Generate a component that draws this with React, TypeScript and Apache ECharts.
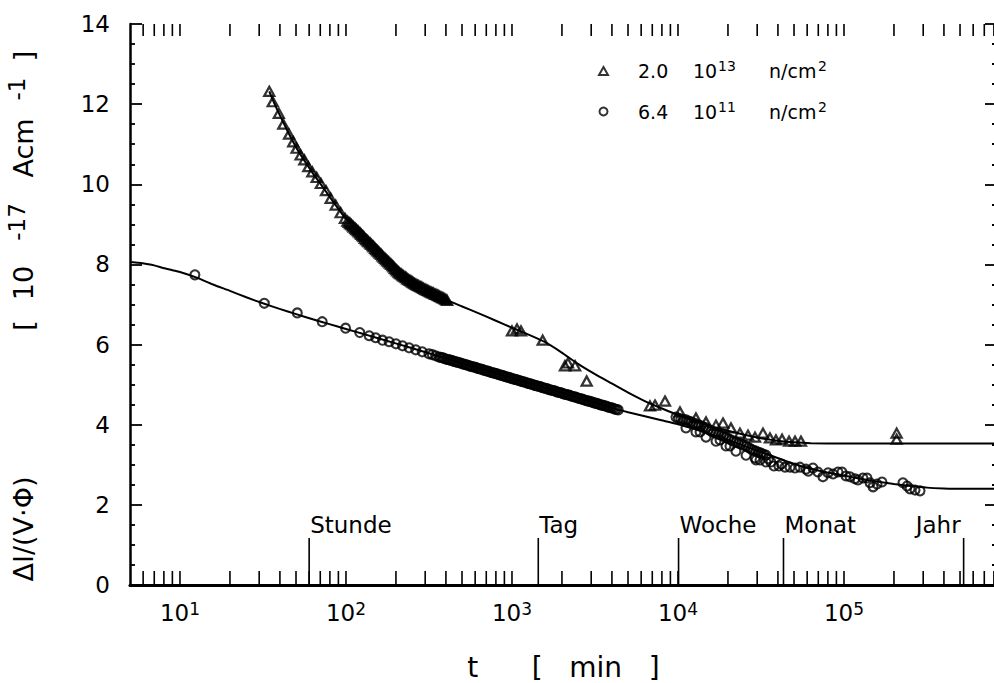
import { useEffect, useRef } from "react";
import * as echarts from "echarts";

const FONT = "'DejaVu Sans', 'Liberation Sans', sans-serif";

// axis ranges
const X_MIN = 5;
const X_MAX = 835000;
const Y_MIN = 0;
const Y_MAX = 14;
const Y_STEP = 2;

// legend / series naming
const seriesCoefficients = ["2.0", "6.4"];
const seriesExponents = ["13", "11"];
const seriesNames = seriesCoefficients.map((c, i) => `${c} 10^${seriesExponents[i]} n/cm^2`);

// 2.0e13 n/cm^2 (triangles): time [min]
const triT = [
  34.5, 36.2, 39.4, 41.9, 45.4, 48.1, 50.4, 53.3, 56.1, 59.3, 62.7, 66.6, 70.6, 75.8, 80.9, 86.7, 92.9, 98.6,
  102, 106, 110, 114, 118, 122, 126, 130, 135, 140, 145, 150, 155, 160, 166, 172, 178, 184, 191, 197, 204, 211,
  219, 227, 234, 243, 251, 260, 269, 279, 288, 299, 309, 320, 331, 343, 355, 367, 380, 394, 407,
  104.1, 107.8, 111.5, 115.5, 119.5, 123.8, 128.1, 132.6, 137.2, 142, 147, 152.2, 157.6, 163.2, 168.9, 174.8, 180.9,
  187.3, 193.9, 200.7, 207.7, 215, 222.6, 230.4, 238.5, 246.9, 255.6, 264.5, 273.8, 283.5, 293.4, 303.7, 314.4,
  325.5, 336.9, 348.7, 361, 373.6, 386.7, 400.4,
  1000, 1072, 1133, 1531, 2085, 2173, 2399, 2818,
  6780, 7270, 8350, 10280, 12830, 14750, 16940, 18670, 20850, 23620, 26410, 29100, 32510, 35810, 38910, 42360,
  46670, 50700, 55080,
  207600, 207600,
];
const triV = [
  12.32, 12.06, 11.77, 11.5, 11.25, 11.06, 10.9, 10.73, 10.61, 10.44, 10.31, 10.17, 10.02, 9.84, 9.65, 9.48, 9.29, 9.15,
  9.08, 9.02, 8.96, 8.9, 8.84, 8.78, 8.72, 8.65, 8.59, 8.53, 8.47, 8.4, 8.34, 8.28, 8.21, 8.15, 8.09, 8.03, 7.97, 7.9, 7.84, 7.78,
  7.73, 7.69, 7.64, 7.6, 7.56, 7.52, 7.48, 7.45, 7.42, 7.38, 7.35, 7.32, 7.29, 7.26, 7.23, 7.2, 7.17, 7.14, 7.1,
  9.05, 8.99, 8.93, 8.87, 8.81, 8.75, 8.69, 8.62, 8.56, 8.5, 8.44, 8.37, 8.31, 8.25, 8.18, 8.12, 8.06,
  8.0, 7.94, 7.87, 7.81, 7.76, 7.71, 7.67, 7.62, 7.58, 7.54, 7.5, 7.47, 7.44, 7.4, 7.37, 7.34,
  7.31, 7.28, 7.25, 7.22, 7.19, 7.16, 7.12,
  6.34, 6.39, 6.34, 6.11, 5.47, 5.54, 5.47, 5.09,
  4.47, 4.49, 4.59, 4.32, 4.17, 4.07, 3.99, 4.04, 3.92, 3.79, 3.74, 3.69, 3.79, 3.67, 3.62, 3.64,
  3.59, 3.59, 3.59,
  3.79, 3.64,
];

// 6.4e11 n/cm^2 (circles)
const circT = [
  12.3, 32.2, 50.9, 71.9, 99.5, 121, 138, 151, 166, 182, 200, 219, 240, 263, 288,
  316, 331, 347, 363, 380, 398, 417, 437, 457, 479, 501, 525, 550, 575, 603, 631, 661, 692, 724, 759, 794, 832, 871,
  912, 955, 1000, 1047, 1096, 1148, 1202, 1259, 1318, 1380, 1445, 1514, 1585, 1660, 1738, 1820, 1905, 1995, 2089,
  2188, 2291, 2399, 2512, 2630, 2754, 2884, 3020, 3162, 3311, 3467, 3631, 3802, 3981, 4169, 4365,
  372, 389, 407, 427, 447, 468, 490, 513, 537, 562, 589, 617, 646, 676, 708, 741, 776, 813, 851, 891, 933, 977,
  1023, 1072, 1122, 1175, 1230, 1288, 1349, 1413, 1479, 1549, 1622, 1698, 1778, 1862, 1950, 2042, 2138, 2239,
  2344, 2455, 2570, 2692, 2818, 2951, 3090, 3236, 3388, 3548, 3715, 3890, 4074, 4266,
  9727, 10420, 11170, 11970, 12830, 13770, 14750, 15810, 16940, 18160, 19460, 20850, 22340, 23990, 25700, 27540,
  29510, 31620, 33880, 36310, 37840, 40550, 44160, 47320, 50700, 54330, 59020, 65010, 69660, 74650, 80170, 85900,
  92040, 97270, 102800, 108700, 116400, 121400, 130100, 137700, 143500, 149600, 158100, 169400, 226500, 239900,
  250000, 267900, 287100,
  10070, 10790, 11570, 12390, 13290, 14250, 15270, 16360, 17540, 18800, 20140, 21580, 23150, 24830, 26600, 28510,
  30550, 32730, 35070,
  11170, 12830, 13580, 14750, 16940, 17910, 19460, 20560, 22340, 25700, 29100, 29510, 31190, 33880, 42000, 61000,
];
const circV = [
  7.74, 7.03, 6.79, 6.57, 6.41, 6.3, 6.22, 6.17, 6.11, 6.07, 6.02, 5.97, 5.92, 5.87, 5.82,
  5.77, 5.75, 5.72, 5.69, 5.67, 5.64, 5.62, 5.6, 5.57, 5.55, 5.52, 5.5, 5.47, 5.45, 5.43, 5.4, 5.38, 5.35, 5.33, 5.3, 5.28, 5.25, 5.23,
  5.2, 5.18, 5.15, 5.13, 5.11, 5.08, 5.06, 5.03, 5.01, 4.98, 4.96, 4.93, 4.91, 4.88, 4.86, 4.84, 4.81, 4.79, 4.76,
  4.74, 4.71, 4.69, 4.66, 4.64, 4.61, 4.59, 4.57, 4.54, 4.52, 4.49, 4.47, 4.44, 4.42, 4.39, 4.37,
  5.68, 5.66, 5.63, 5.61, 5.58, 5.56, 5.54, 5.51, 5.49, 5.46, 5.44, 5.41, 5.39, 5.36, 5.34, 5.31, 5.29, 5.27, 5.24, 5.22, 5.19, 5.17,
  5.14, 5.12, 5.09, 5.07, 5.04, 5.02, 4.99, 4.97, 4.95, 4.92, 4.9, 4.87, 4.85, 4.82, 4.8, 4.77, 4.75, 4.73,
  4.7, 4.68, 4.65, 4.63, 4.6, 4.58, 4.55, 4.53, 4.5, 4.48, 4.46, 4.43, 4.41, 4.38,
  4.19, 4.14, 4.12, 4.07, 4.02, 3.97, 3.92, 3.84, 3.79, 3.74, 3.69, 3.62, 3.57, 3.52, 3.47, 3.39,
  3.34, 3.29, 3.24, 3.07, 2.97, 2.97, 2.94, 2.94, 2.92, 2.94, 2.89, 2.92, 2.82, 2.7, 2.8, 2.77,
  2.82, 2.82, 2.72, 2.7, 2.65, 2.62, 2.67, 2.67, 2.55, 2.45, 2.52, 2.57, 2.55, 2.47,
  2.4, 2.37, 2.35,
  4.16, 4.13, 4.09, 4.04, 3.99, 3.94, 3.88, 3.81, 3.76, 3.71, 3.65, 3.59, 3.54, 3.49, 3.43, 3.36,
  3.31, 3.26, 3.15,
  3.92, 3.82, 3.82, 3.69, 3.59, 3.62, 3.47, 3.47, 3.34, 3.24, 3.17, 3.12, 3.12, 3.07, 3.02, 2.84,
];

// fitted curves
const triFitT = [
  34.5, 37.2, 39.8, 44.7, 50.1, 56.2, 63.1, 70.8, 79.4, 89.1, 100, 112, 126, 141, 158, 178, 200, 224, 251, 282, 316,
  355, 398, 501, 631, 794, 1000, 1259, 1585, 1995, 2512, 3162, 3981, 5012, 6310, 7943, 10000, 12590, 15850, 19950,
  25120, 31620, 39810, 50120, 63100, 100000, 835000,
];
const triFitV = [
  12.32, 12.0, 11.74, 11.31, 10.92, 10.59, 10.28, 9.99, 9.7, 9.41, 9.13, 8.92, 8.72, 8.51, 8.3, 8.09, 7.88, 7.71, 7.56, 7.44, 7.33,
  7.22, 7.12, 6.95, 6.78, 6.6, 6.42, 6.25, 6.06, 5.8, 5.51, 5.26, 5.03, 4.8, 4.59, 4.41, 4.24, 4.1, 3.96, 3.85,
  3.75, 3.66, 3.6, 3.56, 3.54, 3.53, 3.53,
];
const circFitT = [
  5, 5.62, 6.31, 7.08, 7.94, 8.91, 10, 12.6, 15.8, 20, 25.1, 31.6, 39.8, 50.1, 63.1, 79.4, 100, 126, 158, 251, 398,
  631, 1000, 1585, 2512, 3981, 5012, 6310, 7943, 10000, 12590, 15850, 19950, 25120, 31620, 39810, 50120, 63100, 79430,
  100000, 125900, 158500, 199500, 251200, 316200, 398100, 501200, 835000,
];
const circFitV = [
  8.06, 8.04, 8.01, 7.97, 7.91, 7.86, 7.81, 7.67, 7.5, 7.34, 7.18, 7.03, 6.89, 6.76, 6.63, 6.51, 6.39, 6.27, 6.15, 5.91, 5.66,
  5.41, 5.16, 4.92, 4.67, 4.42, 4.31, 4.21, 4.11, 4.01, 3.89, 3.76, 3.62, 3.47, 3.32, 3.17, 3.02, 2.9, 2.81,
  2.73, 2.65, 2.58, 2.52, 2.47, 2.43, 2.41, 2.4, 2.4,
];

// x-axis tick positions (log axis, every integer multiple)
const xTickValues = [
  6, 7, 8, 9, 10, 20, 30, 40, 50, 60, 70, 80, 90, 100, 200, 300, 400, 500, 600, 700, 800, 900,
  1000, 2000, 3000, 4000, 5000, 6000, 7000, 8000, 9000, 10000, 20000, 30000, 40000, 50000, 60000, 70000, 80000, 90000,
  100000, 200000, 300000, 400000, 500000, 600000, 700000, 800000,
];

// time markers
const markerNames = ["Stunde", "Tag", "Woche", "Monat", "Jahr"];
const markerMinutes = [60, 1440, 10080, 43200, 525600];

const pairs = (a: number[], b: number[]) => a.map((v, i) => [v, b[i]]);

export default function App() {
  const ref = useRef<HTMLDivElement>(null);
  useEffect(() => {
    document.body.style.margin = "0";
    const chart = echarts.init(ref.current!, null, { renderer: "svg" });
    const black = "#000";
    const option: any = {
      animation: false,
      backgroundColor: "#fff",
      textStyle: { fontFamily: FONT, color: black },
      grid: { left: 130, right: -3, top: 24, bottom: 98, containLabel: false, outerBoundsMode: "none" },
      legend: {
        data: seriesNames,
        orient: "vertical",
        left: 598,
        top: 59,
        padding: 0,
        itemWidth: 9,
        itemHeight: 8,
        itemGap: 19,
        selectedMode: false,
        formatter: (name: string) => {
          const i = seriesNames.indexOf(name);
          return `{g|}{v|${seriesCoefficients[i]}}{e|10}{s|${seriesExponents[i]}}{u|n/cm}{q|2}`;
        },
        textStyle: {
          color: black,
          fontFamily: FONT,
          rich: {
            g: { width: 25 },
            v: { fontSize: 19, width: 55, lineHeight: 24, fontFamily: FONT, color: black },
            e: { fontSize: 19, width: 25, lineHeight: 24, fontFamily: FONT, color: black },
            s: { fontSize: 14, width: 51, lineHeight: 12, verticalAlign: "top", fontFamily: FONT, color: black },
            u: { fontSize: 19, width: 49, lineHeight: 24, fontFamily: FONT, color: black },
            q: { fontSize: 14, lineHeight: 12, verticalAlign: "top", fontFamily: FONT, color: black },
          },
        },
      },
      xAxis: [
        {
          type: "log",
          logBase: 10,
          min: X_MIN,
          max: X_MAX,
          position: "bottom",
          axisLine: { show: true, lineStyle: { color: black, width: 3 } },
          axisTick: { show: false },
          axisLabel: { show: false },
          splitLine: { show: false },
          name: "t      [   min   ]",
          nameLocation: "middle",
          nameGap: 68,
          nameTextStyle: { fontSize: 28, fontFamily: FONT, color: black },
        },
        {
          type: "log",
          logBase: 10,
          min: X_MIN,
          max: X_MAX,
          position: "top",
          axisLine: { show: true, lineStyle: { color: black, width: 2.5 } },
          axisTick: { show: false },
          axisLabel: { show: false },
          splitLine: { show: false },
        },
      ],
      yAxis: [
        {
          type: "value",
          min: Y_MIN,
          max: Y_MAX,
          interval: Y_STEP,
          position: "left",
          axisLine: { show: true, lineStyle: { color: black, width: 2.5 } },
          axisTick: { show: true, inside: true, length: 12, lineStyle: { color: black, width: 1.8 } },
          minorTick: { show: true, splitNumber: 4, length: 5, lineStyle: { color: black, width: 1.8 } },
          splitLine: { show: false },
          axisLabel: { color: black, fontSize: 23, fontFamily: FONT, margin: 20 },
          name: "{a|ΔI/(V·Φ)}{gap|}{b|[}{c|10}{s|-17}{d|Acm}{t|-1}{e|]}{end|}",
          nameLocation: "middle",
          nameRotate: 90,
          nameGap: 88,
          nameTextStyle: {
            color: black,
            fontFamily: FONT,
            rich: {
              a: { fontSize: 27, width: 122, lineHeight: 32, fontFamily: FONT, color: black },
              gap: { width: 120 },
              b: { fontSize: 27, width: 45, lineHeight: 32, fontFamily: FONT, color: black },
              c: { fontSize: 27, width: 40, lineHeight: 32, fontFamily: FONT, color: black },
              s: { fontSize: 23, width: 82, padding: [0, 0, 14, 0], fontFamily: FONT, color: black },
              d: { fontSize: 27, width: 66, lineHeight: 32, fontFamily: FONT, color: black },
              t: { fontSize: 23, width: 52, padding: [0, 0, 14, 0], fontFamily: FONT, color: black },
              e: { fontSize: 27, width: 14, lineHeight: 32, fontFamily: FONT, color: black },
              end: { width: 30 },
            },
          },
        },
        {
          type: "value",
          min: Y_MIN,
          max: Y_MAX,
          interval: Y_STEP,
          position: "right",
          axisLine: { show: true, lineStyle: { color: black, width: 2.5 } },
          axisTick: { show: true, inside: true, length: 12, lineStyle: { color: black, width: 1.8 } },
          minorTick: { show: true, splitNumber: 4, length: 5, lineStyle: { color: black, width: 1.8 } },
          splitLine: { show: false },
          axisLabel: { show: false },
        },
      ],
      series: [
        {
          type: "line",
          name: "fit-tri",
          data: pairs(triFitT, triFitV),
          smooth: 0.2,
          symbol: "none",
          silent: true,
          lineStyle: { color: black, width: 2 },
        },
        {
          type: "line",
          name: "fit-circ",
          data: pairs(circFitT, circFitV),
          smooth: 0.2,
          symbol: "none",
          silent: true,
          lineStyle: { color: black, width: 2 },
        },
        {
          type: "scatter",
          name: seriesNames[0],
          data: pairs(triT, triV),
          symbol: "triangle",
          symbolSize: [10, 9],
          silent: true,
          itemStyle: { color: "rgba(0,0,0,0)", borderColor: black, borderWidth: 2.3 },
        },
        {
          type: "scatter",
          name: seriesNames[1],
          data: pairs(circT, circV),
          symbol: "circle",
          symbolSize: 9,
          silent: true,
          itemStyle: { color: "rgba(0,0,0,0)", borderColor: black, borderWidth: 2.1 },
        },
        {
          type: "custom",
          name: "xticks",
          silent: true,
          data: xTickValues.map((v) => [v, Y_MIN]),
          renderItem: (params: any, api: any) => {
            const t = api.value(0);
            const b = api.coord([t, Y_MIN]);
            const tp = api.coord([t, Y_MAX]);
            const children: any[] = [
              { type: "line", shape: { x1: b[0], y1: b[1], x2: b[0], y2: b[1] - 14 }, style: { stroke: black, lineWidth: 1.6 } },
              { type: "line", shape: { x1: tp[0], y1: tp[1], x2: tp[0], y2: tp[1] + 12 }, style: { stroke: black, lineWidth: 1.6 } },
            ];
            const e = Math.log10(t);
            if (Math.abs(e - Math.round(e)) < 1e-9) {
              children.push({
                type: "text",
                x: b[0],
                y: b[1] + 15,
                style: {
                  text: `{b|10}{s|${Math.round(e)}}`,
                  align: "center",
                  verticalAlign: "top",
                  fill: black,
                  rich: {
                    b: { fontSize: 23, lineHeight: 26, fontFamily: FONT, fill: black },
                    s: { fontSize: 17, lineHeight: 13, verticalAlign: "top", fontFamily: FONT, fill: black },
                  },
                },
              });
            }
            return { type: "group", children };
          },
        },
        {
          type: "custom",
          name: "markers",
          silent: true,
          data: markerMinutes.map((v) => [v, Y_MIN]),
          renderItem: (params: any, api: any) => {
            const t = api.value(0);
            const b = api.coord([t, Y_MIN]);
            const top = b[1] - 47;
            const last = params.dataIndex === markerNames.length - 1;
            return {
              type: "group",
              children: [
                { type: "line", shape: { x1: b[0], y1: b[1], x2: b[0], y2: top }, style: { stroke: black, lineWidth: 1.6 } },
                {
                  type: "text",
                  x: last ? b[0] - 3 : b[0] + 1,
                  y: top - 13,
                  style: {
                    text: markerNames[params.dataIndex],
                    fontSize: 23,
                    fontFamily: FONT,
                    fill: black,
                    align: last ? "right" : "left",
                    verticalAlign: "middle",
                  },
                },
              ],
            };
          },
        },
      ],
    };
    chart.setOption(option);
    return () => chart.dispose();
  }, []);
  return <div ref={ref} style={{ width: 994, height: 683 }} />;
}
